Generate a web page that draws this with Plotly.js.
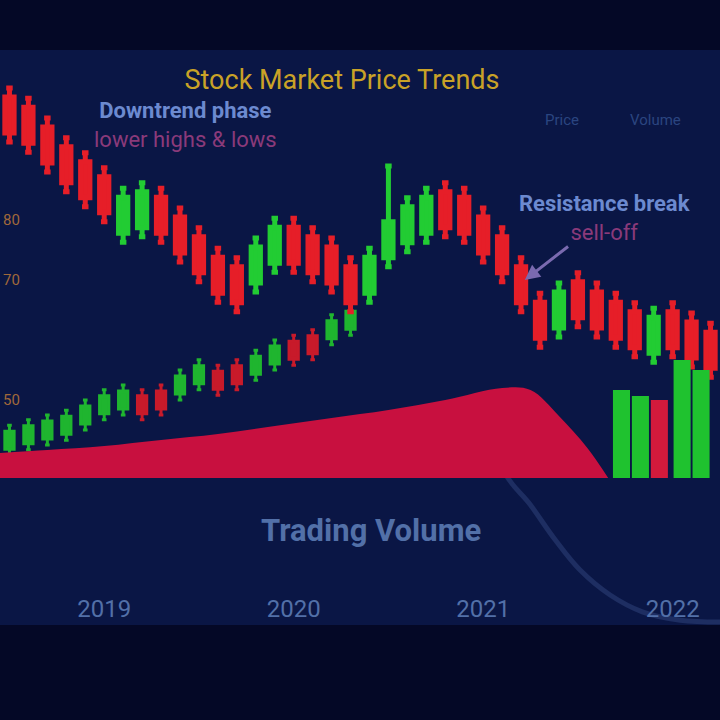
<!DOCTYPE html>
<html>
<head>
<meta charset="utf-8">
<script src="https://cdn.plot.ly/plotly-3.0.1.min.js"></script>
<style>html,body{margin:0;padding:0;background:#040826;}#chart{width:720px;height:720px;}</style>
</head>
<body>
<div id="chart"></div>
<script>
// ---- data ----
const idx = [0,1,2,3,4,5,6,7,8,9,10,11,12,13,14,15,16,17,18,19,20,21,22,23,24,25,26,27,28,29,30,31,32,33,34,35,36,37];
const openP  = [100.5,98.8,95.5,92.2,89.7,87.2,77.8,78.7,83.8,80.5,77.2,73.8,72.2,69.5,72.8,78.8,77.2,75.5,72.2,67.8,73.7,76.2,77.8,84.7,83.8,80.5,77.2,72.2,66.3,62.0,69.7,68.0,66.3,64.7,57.8,64.7,63.0,61.3];
const closeP = [94.5,92.8,89.5,86.2,83.7,81.2,83.8,84.7,77.8,74.5,71.2,67.8,66.2,75.5,78.8,72.8,71.2,69.5,66.2,73.8,79.7,82.2,83.8,78.7,77.8,74.5,71.2,66.2,60.3,68.0,63.7,62.0,60.3,58.7,63.8,58.7,57.0,55.3];
const highP  = [102.0,100.3,97.0,93.7,91.2,88.7,85.3,86.2,85.3,82.0,78.7,75.3,73.7,77.0,80.3,80.3,78.7,77.0,73.7,75.3,89.0,83.7,85.3,86.2,85.3,82.0,78.7,73.7,67.8,69.5,71.2,69.5,67.8,66.2,65.3,66.2,64.5,62.8];
const lowP   = [93.0,91.3,88.0,84.7,82.2,79.7,76.3,77.2,76.3,73.0,69.7,66.3,64.7,68.0,71.3,71.3,69.7,68.0,64.7,66.3,72.2,74.7,76.3,77.2,76.3,73.0,69.7,64.7,58.8,60.5,62.2,60.5,58.8,57.2,56.3,57.2,55.5,53.8];

const idx2 = [0,1,2,3,4,5,6,7,8,9,10,11,12,13,14,15,16,17,18];
const open2  = [41.8,42.7,43.5,44.3,46.0,47.7,48.5,50.7,51.5,51.0,52.7,54.8,55.7,54.3,56.0,59.8,60.7,60.2,61.8];
const close2 = [44.8,45.7,46.5,47.3,49.0,50.7,51.5,47.7,48.5,54.0,55.7,51.8,52.7,57.3,59.0,56.8,57.7,63.2,64.8];
const high2  = [45.8,46.7,47.5,48.3,50.0,51.7,52.5,51.7,52.5,55.0,56.7,55.8,56.7,58.3,60.0,60.8,61.7,64.2,65.8];
const low2   = [40.8,41.7,42.5,43.3,45.0,46.7,47.5,46.7,47.5,50.0,51.7,50.8,51.7,53.3,55.0,55.8,56.7,59.2,60.8];

const volX = [-0.5,2,5,8,11,14,17,20,23,26,27.5,29,30.5,31.6];
const volY = [25,28,32,38,44,52,60,68,78,90,88,62,30,0];

const barX = [32.3,33.3,34.3,35.5,36.5];
const barY = [88,82,78,118,108];
const barC = ['#1fc22f','#1fc22f','#d21a3c','#1fc22f','#1fc22f'];

const trendX = [26.1,26.1,27.5,28.8,30.1,31.7,33.4,35.4,37.5];
const trendY = [46.7,38.3,32.5,26.7,21.7,17.5,14.7,13.3,13.0];

const tickIdx = [5,15,25,35];
const tickLbl = ['2019','2020','2021','2022'];
const yTicks = [50,70,80];

// ---- traces ----
const traces = [
  {type:'scatter', mode:'lines', x:volX, y:volY, yaxis:'y2', fill:'tozeroy',
   line:{color:'#c8103f', width:0, shape:'spline'}, fillcolor:'#c8103f', name:'Volume', hoverinfo:'skip'},
  {type:'bar', x:barX, y:barY, yaxis:'y2', marker:{color:barC}, width:0.9},
  {type:'scatter', mode:'lines', x:trendX, y:trendY, line:{color:'#1e2e62', width:5, shape:'spline'}},
  {type:'candlestick', x:idx2, open:open2, close:close2, high:high2, low:low2, name:'Index',
   increasing:{line:{color:'#1fb52f', width:3}, fillcolor:'#1fb52f'},
   decreasing:{line:{color:'#c81a2a', width:3}, fillcolor:'#c81a2a'}, whiskerwidth:0.5},
  {type:'candlestick', x:idx, open:openP, close:closeP, high:highP, low:lowP, name:'Price',
   increasing:{line:{color:'#22cc33', width:5}, fillcolor:'#22cc33'},
   decreasing:{line:{color:'#e61e28', width:5}, fillcolor:'#e61e28'}, whiskerwidth:0.7}
];

const layout = {
  width:720, height:720,
  paper_bgcolor:'#040826', plot_bgcolor:'#0a1645',
  margin:{l:0, r:0, t:50, b:95},
  font:{family:'Roboto, sans-serif', color:'#4a68a0'},
  title:{text:'Stock Market Price Trends', x:0.475, y:0.89, xanchor:'center', yanchor:'middle',
         font:{size:27, color:'#c9a227', family:'Roboto, sans-serif'}},
  showlegend:false,
  xaxis:{type:'linear', range:[-0.5,37.5], tickvals:tickIdx, ticktext:tickLbl, ticklabelposition:'inside',
         tickfont:{size:24, color:'#5270a8'}, showgrid:false, zeroline:false, showline:false, ticks:'',
         rangeslider:{visible:false}},
  yaxis:{range:[12.5,108.33], tickvals:yTicks, ticklabelposition:'inside', tickfont:{size:15, color:'#a0683a'},
         showgrid:false, zeroline:false, showline:false, ticks:''},
  yaxis2:{overlaying:'y', range:[-147,428], visible:false, showgrid:false, zeroline:false},
  annotations:[
    {x:0.257, y:0.87, xref:'paper', yref:'paper', xanchor:'center', yanchor:'middle', showarrow:false, align:'center',
     text:'<b>Downtrend phase</b><br><span style="color:#8a3a7a">lower highs &amp; lows</span>',
     font:{size:22, color:'#6c8ad0'}},
    {x:27.2, y:70, xref:'x', yref:'y', ax:80, ay:-62, showarrow:true, arrowhead:2, arrowcolor:'#7a6ab0', arrowwidth:3,
     text:'<b>Resistance break</b><br><span style="color:#8a3a7a">sell-off</span>',
     font:{size:22, color:'#6c8ad0'}},
    {x:0.515, y:0.165, xref:'paper', yref:'paper', xanchor:'center', yanchor:'middle', showarrow:false,
     text:'<b>Trading Volume</b>', font:{size:31, color:'#5270a8'}},
    {x:0.78, y:0.878, xref:'paper', yref:'paper', xanchor:'center', yanchor:'middle', showarrow:false,
     text:'Price', font:{size:15, color:'#2a4580'}},
    {x:0.91, y:0.878, xref:'paper', yref:'paper', xanchor:'center', yanchor:'middle', showarrow:false,
     text:'Volume', font:{size:15, color:'#2a4580'}}
  ]
};

Plotly.newPlot('chart', traces, layout, {displayModeBar:false, staticPlot:true});
</script>
</body>
</html>
